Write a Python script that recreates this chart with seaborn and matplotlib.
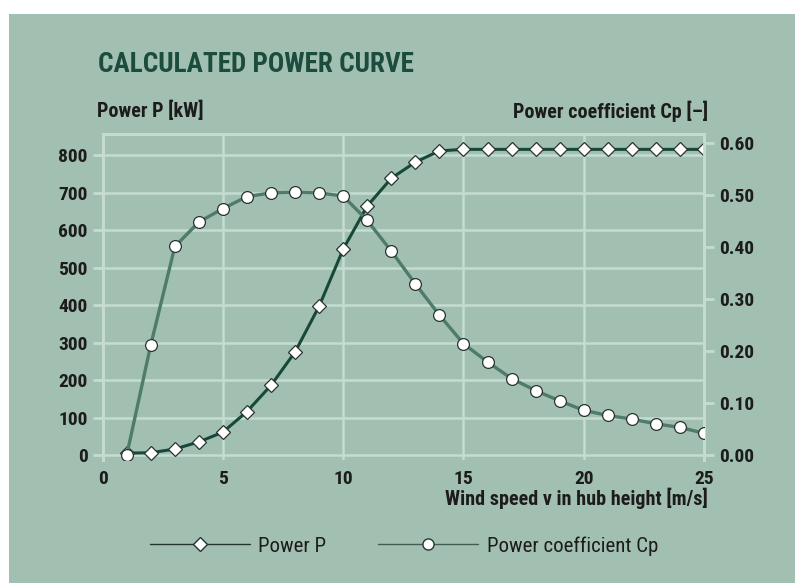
import numpy as np
import pandas as pd
import seaborn as sns
import matplotlib.pyplot as plt
from matplotlib import font_manager
from matplotlib.lines import Line2D
from matplotlib.patches import Rectangle

# values
wind_speed = list(range(1, 26))
power_kw = [5, 6, 16, 35, 61, 116, 186, 275, 397, 549, 664, 738, 781, 811,
            815, 815, 815, 815, 815, 815, 815, 815, 815, 815, 815]
power_coeff = [0.0, 0.212, 0.401, 0.448, 0.474, 0.497, 0.504, 0.505, 0.504, 0.498,
               0.451, 0.392, 0.329, 0.269, 0.214, 0.179, 0.147, 0.124, 0.104, 0.086,
               0.076, 0.069, 0.060, 0.053, 0.042]
x_ticks = [0, 5, 10, 15, 20, 25]
p_ticks = [0, 100, 200, 300, 400, 500, 600, 700, 800]
cp_ticks = [0.0, 0.1, 0.2, 0.3, 0.4, 0.5, 0.6]

df = pd.DataFrame({'v': wind_speed, 'P': power_kw, 'Cp': power_coeff})

bg = '#a2c0b2'
grid = '#c4ddd0'
dark_green = '#17493a'
mid_green = '#4e7b6a'
title_col = '#1b4c3e'
txt = '#1c1c1c'

sns.set_style('white')

# condensed face, falls back to plain sans if missing
installed = {f.name for f in font_manager.fontManager.ttflist}
family = 'Roboto Condensed' if 'Roboto Condensed' in installed else 'Liberation Sans'
narrow = [family, 'DejaVu Sans']
plt.rcParams['font.family'] = narrow

fig = plt.figure(figsize=(7.95, 5.83), dpi=100, facecolor='white')
fig.patches.append(Rectangle((9 / 795, 0), 1, 1 - 14 / 583, transform=fig.transFigure,
                             facecolor=bg, edgecolor='none', zorder=-10))

ax = fig.add_axes([102.7 / 795, 1 - 460 / 583, (704 - 102.7) / 795, 326 / 583])
ax.set_facecolor(bg)
ax2 = ax.twinx()

sns.lineplot(data=df, x='v', y='P', ax=ax, color=dark_green, linewidth=2.2,
             marker='D', markersize=7, markerfacecolor='white',
             markeredgecolor='#2b3330', markeredgewidth=0.9, zorder=3)
sns.lineplot(data=df, x='v', y='Cp', ax=ax2, color=mid_green, linewidth=2.4,
             marker='o', markersize=8.5, markerfacecolor='white',
             markeredgecolor='#2b3330', markeredgewidth=0.9, zorder=3)

ax.set_xlim(0, 25)
ax.set_ylim(-13.3, 856)
ax2.set_ylim(-0.0096, 0.6173)

ax.set_xticks(x_ticks)
ax.set_yticks(p_ticks)
ax2.set_yticks(cp_ticks)
ax2.set_yticklabels([f'{t:.2f}' for t in cp_ticks])
ax.grid(True, color=grid, linewidth=1.8)
ax.set_axisbelow(True)
ax.set_xlabel('')
ax.set_ylabel('')
ax2.set_ylabel('')

for a in (ax, ax2):
    for side in ('left', 'right', 'top'):
        a.spines[side].set_color(grid)
        a.spines[side].set_linewidth(2)
    a.spines['bottom'].set_visible(False)

ax.tick_params(axis='y', length=7, width=2, color=grid, pad=4, labelcolor=txt)
ax.tick_params(axis='x', length=0, pad=7, labelcolor=txt)
ax2.tick_params(axis='y', length=7, width=2, color=grid, pad=4, labelcolor=txt)
for lab in ax.get_xticklabels() + ax.get_yticklabels() + ax2.get_yticklabels():
    lab.set_fontweight('bold')
    lab.set_fontsize(14)

fig.text(98 / 795, 1 - 64 / 583, 'CALCULATED POWER CURVE', color=title_col,
         fontsize=19.5, fontweight='bold', va='center', ha='left')
fig.text(97 / 795, 1 - 111 / 583, 'Power P [kW]', color=txt, fontsize=14.5,
         fontweight='bold', va='center', ha='left')
fig.text(708 / 795, 1 - 111 / 583, 'Power coefficient Cp [\u2013]', color=txt,
         fontsize=14.5, fontweight='bold', va='center', ha='right')
fig.text(708 / 795, 1 - 498 / 583, 'Wind speed v in hub height [m/s]', color=txt,
         fontsize=14.5, fontweight='bold', va='center', ha='right')

handles = [
    Line2D([], [], color='#233530', linewidth=1, marker='D', markersize=7,
           markerfacecolor='white', markeredgecolor='#233530'),
    Line2D([], [], color='#3f5d52', linewidth=1, marker='o', markersize=8,
           markerfacecolor='white', markeredgecolor='#233530'),
]
leg = fig.legend(handles, ['Power P', 'Power coefficient Cp'], loc='center',
                 bbox_to_anchor=(404 / 795, 1 - 546 / 583), ncol=2, frameon=False,
                 handlelength=4.8, handletextpad=0.4, columnspacing=2.5,
                 prop=dict(family=narrow, size=15))
for t in leg.get_texts():
    t.set_color(txt)

fig.savefig('out.png', dpi=100, facecolor='white')
